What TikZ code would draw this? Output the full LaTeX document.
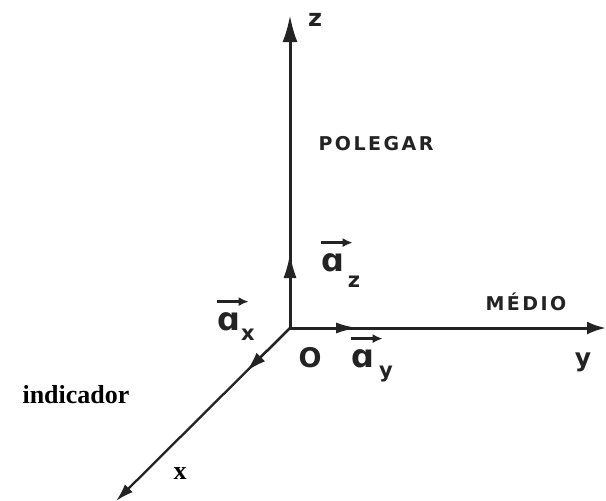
\documentclass[tikz,border=0pt]{standalone}
\usepackage{fontspec}
\setmainfont{Liberation Serif}
\newfontfamily\etiq{DejaVu Sans}
\newfontfamily\caixa[LetterSpace=13.0]{DejaVu Sans}
\usepackage{tikz}
\usetikzlibrary{arrows.meta,calc}
\definecolor{traco}{RGB}{35,35,35}

\begin{document}
\begin{tikzpicture}[x=1pt,y=-1pt,
		eixo/.style={traco,line width=3pt},
		seta/.style={traco,line width=3pt,-{Latex[length=25pt,width=13pt]}},
		setinha/.style={traco,line width=2.8pt,-{Latex[length=10pt,width=9pt]}},
		rot/.style={traco,inner sep=0pt,font=\fontsize{25}{25}\selectfont\etiq\bfseries},
		alfa/.style={traco,inner sep=0pt,font=\fontsize{32}{32}\selectfont\etiq\bfseries},
		indice/.style={traco,inner sep=0pt,font=\fontsize{21}{21}\selectfont\etiq\bfseries},
		maiusc/.style={traco,inner sep=0pt,font=\fontsize{19}{19}\selectfont\caixa\bfseries},
		serif/.style={inner sep=0pt,font=\fontsize{26}{26}\selectfont\bfseries}]
	\useasboundingbox (0,0) rectangle (606,501);
	% eixos
	\coordinate (O) at (290,328);
	\coordinate (zfim) at (290,15);
	\coordinate (yfim) at (606,328);
	\coordinate (xfim) at (116,501);
	\draw[eixo,-{Latex[length=27pt,width=15pt]}] (O)--(zfim);
	\draw[eixo,-{Latex[length=19pt,width=13pt]}] (O)--(yfim);
	\draw[eixo,line width=2.3pt,-{Latex[length=18pt,width=11pt]}] (O)--(xfim);
	% versores
	\coordinate (az) at (290,253);
	\coordinate (ay) at (358,328);
	\coordinate (ax) at ($(O)!0.25!(xfim)$);
	\draw[seta] (O)--(az);
	\draw[seta,-{Latex[length=22pt,width=11pt]}] (O)--(ay);
	\draw[seta,line width=2.3pt,-{Latex[length=20pt,width=12pt]}] (O)--(ax);
	% rotulos dos versores
	\foreach \v/\ax/\ay/\sx/\sy in {z/333/263/354/282,y/363/359/386/374,x/229/322/248/335}{
		\node[alfa] (vet\v) at (\ax,\ay) {ɑ};
		\node[indice] (ind\v) at (\sx,\sy) {\v};
		\draw[setinha] ([yshift=11pt]vet\v.north west)--([yshift=11pt,xshift=8pt]vet\v.north east);
	}
	% rotulos
	\node[rot,font=\fontsize{24}{24}\selectfont\etiq\bfseries] (lz) at (315,20) {z};
	\node[rot] (ly) at (583,362) {y};
	\node[rot,font=\fontsize{27}{27}\selectfont\etiq\bfseries] (lo) at (310,358) {O};
	\node[maiusc] (polegar) at (376,144) {POLEGAR};
	\node[maiusc] (medio) at (526,302) {MÉDIO};
	\node[serif] (indic) at (76,395) {indicador};
	\node[serif] (lx) at (180,474) {x};
\end{tikzpicture}
\end{document}
